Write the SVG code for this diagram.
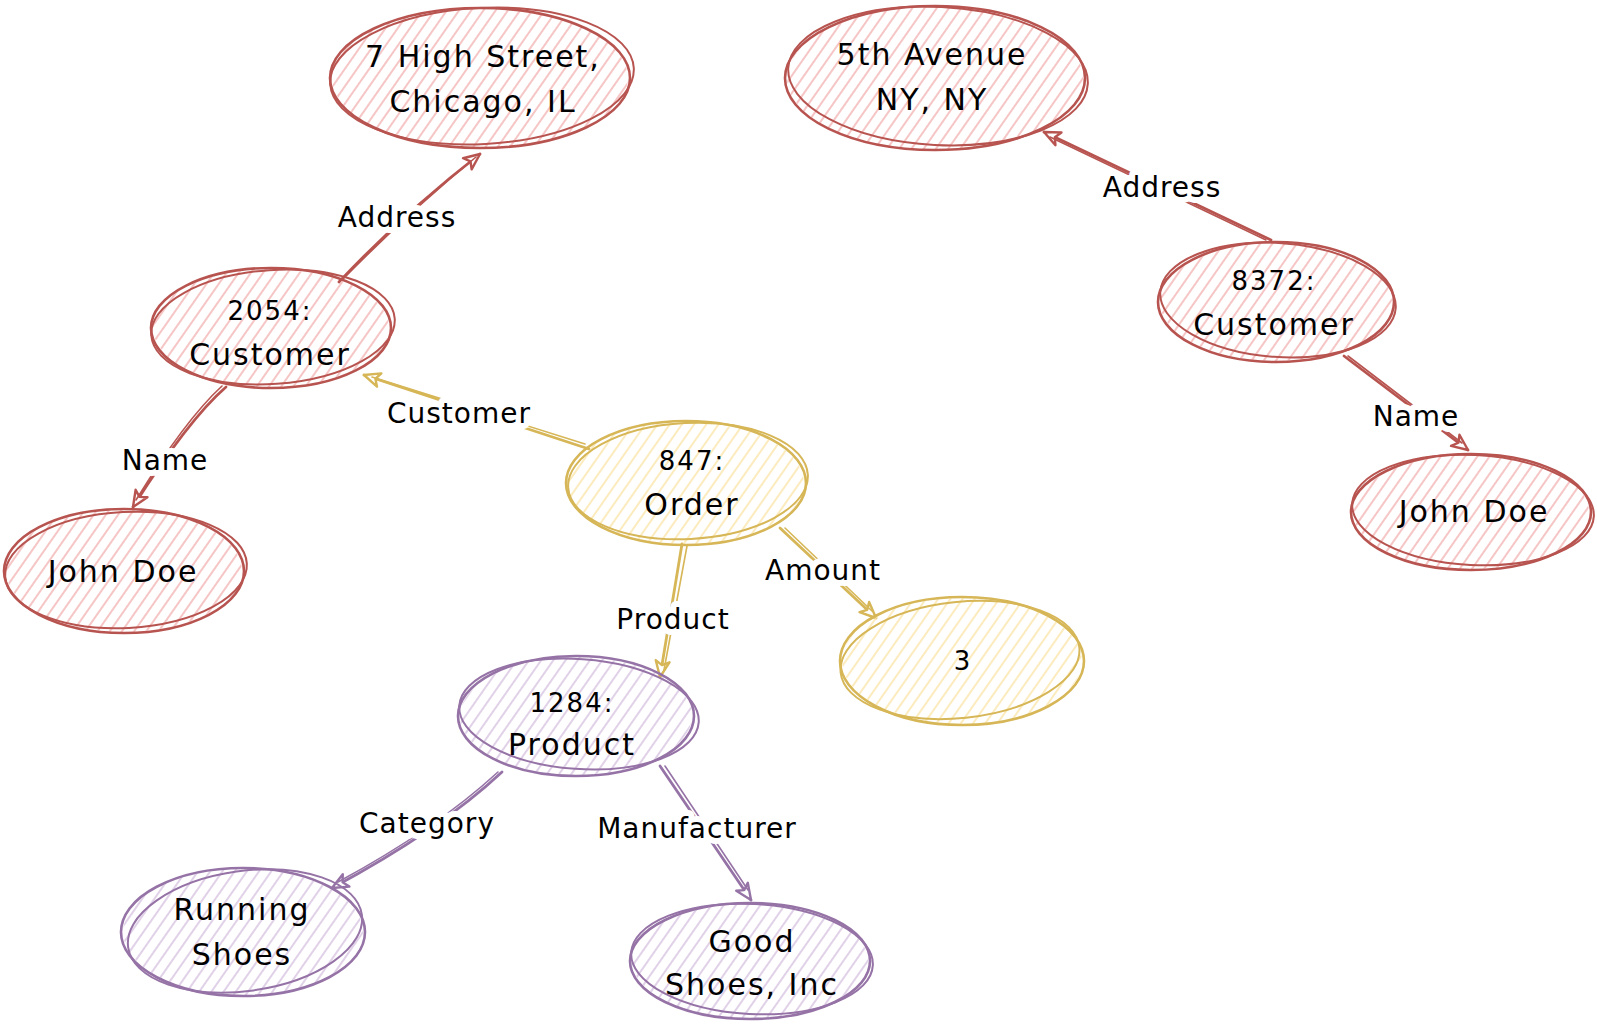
<svg xmlns="http://www.w3.org/2000/svg" width="1597" height="1027" viewBox="0 0 1597 1027">
<style>
.bg{fill:#fff}
.o{fill:none;stroke-width:2.6;stroke-linecap:round}
.o2{fill:none;stroke-width:2;stroke-linecap:round}
.r{stroke:#b85450}
.y{stroke:#d6b656}
.p{stroke:#9673a6}
.fr{fill:url(#hR)}
.fy{fill:url(#hY)}
.fp{fill:url(#hP)}
.t{font-family:"DejaVu Sans","Liberation Sans",sans-serif;font-size:30px;letter-spacing:2px;text-anchor:middle;fill:#000}
.s{font-size:26px}
.l{font-family:"DejaVu Sans","Liberation Sans",sans-serif;font-size:28px;letter-spacing:1px;text-anchor:middle;fill:#000;paint-order:stroke;stroke:#fff;stroke-width:12px;stroke-linejoin:round}
.e{fill:none;stroke-width:2.8;stroke-linecap:round}
.e2{fill:none;stroke-width:1.6;stroke-linecap:round}
</style>
<defs>
<pattern id="hR" width="10" height="10" patternUnits="userSpaceOnUse" patternTransform="rotate(35)"><line x1="2" y1="0" x2="2" y2="10" stroke="#f3b8b6" stroke-width="1.6"/></pattern>
<pattern id="hY" width="10" height="10" patternUnits="userSpaceOnUse" patternTransform="rotate(35)"><line x1="2" y1="0" x2="2" y2="10" stroke="#fbe6ad" stroke-width="1.6"/></pattern>
<pattern id="hP" width="10" height="10" patternUnits="userSpaceOnUse" patternTransform="rotate(35)"><line x1="2" y1="0" x2="2" y2="10" stroke="#d9c6e2" stroke-width="1.6"/></pattern>
<marker id="aR" viewBox="0 0 20 20" refX="18" refY="10" markerWidth="20" markerHeight="20" markerUnits="userSpaceOnUse" orient="auto"><path d="M2,3 L18,10 L2,17 L6,10 Z" fill="#fff" stroke="#b85450" stroke-width="2.4" stroke-linejoin="round"/></marker>
<marker id="aY" viewBox="0 0 20 20" refX="18" refY="10" markerWidth="20" markerHeight="20" markerUnits="userSpaceOnUse" orient="auto"><path d="M2,3 L18,10 L2,17 L6,10 Z" fill="#fff" stroke="#d6b656" stroke-width="2.4" stroke-linejoin="round"/></marker>
<marker id="aP" viewBox="0 0 20 20" refX="18" refY="10" markerWidth="20" markerHeight="20" markerUnits="userSpaceOnUse" orient="auto"><path d="M2,3 L18,10 L2,17 L6,10 Z" fill="#fff" stroke="#9673a6" stroke-width="2.4" stroke-linejoin="round"/></marker>
</defs>
<rect class="bg" x="0" y="0" width="1597" height="1027"/>

<g id="connectors">
  <g id="e-addr1">
    <path class="e r" d="M339,282 Q405,212 480,154" marker-end="url(#aR)"/>
    <path class="e2 r" d="M343,279 Q407,214 476,157"/>
    <text class="l" x="397" y="227">Address</text>
  </g>
  <g id="e-addr2">
    <path class="e r" d="M1271,240 L1044,132" marker-end="url(#aR)"/>
    <path class="e2 r" d="M1266,240 L1050,137"/>
    <text class="l" x="1162" y="197">Address</text>
  </g>
  <g id="e-name1">
    <path class="e r" d="M226,387 Q188,420 133,507" marker-end="url(#aR)"/>
    <path class="e2 r" d="M222,386 Q185,420 136,500"/>
    <text class="l" x="165" y="470">Name</text>
  </g>
  <g id="e-name2">
    <path class="e r" d="M1344,356 L1468,450" marker-end="url(#aR)"/>
    <path class="e2 r" d="M1348,356 L1462,443"/>
    <text class="l" x="1416" y="426">Name</text>
  </g>
  <g id="e-customer">
    <path class="e y" d="M589,449 L364,375" marker-end="url(#aY)"/>
    <path class="e2 y" d="M585,444 L372,377"/>
    <text class="l" x="459" y="423">Customer</text>
  </g>
  <g id="e-product">
    <path class="e y" d="M682,544 L660,677" marker-end="url(#aY)"/>
    <path class="e2 y" d="M687,546 L664,670"/>
    <text class="l" x="673" y="629">Product</text>
  </g>
  <g id="e-amount">
    <path class="e y" d="M780,528 L876,618" marker-end="url(#aY)"/>
    <path class="e2 y" d="M785,528 L872,611"/>
    <text class="l" x="823" y="580">Amount</text>
  </g>
  <g id="e-category">
    <path class="e p" d="M502,772 Q440,830 332,888" marker-end="url(#aP)"/>
    <path class="e2 p" d="M498,772 Q436,829 338,882"/>
    <text class="l" x="427" y="833">Category</text>
  </g>
  <g id="e-manufacturer">
    <path class="e p" d="M660,766 L751,900" marker-end="url(#aP)"/>
    <path class="e2 p" d="M665,766 L748,890"/>
    <text class="l" x="697" y="838">Manufacturer</text>
  </g>
</g>

<g id="n-high">
  <ellipse class="fr" cx="480" cy="78" rx="148" ry="70"/>
  <ellipse class="o r" cx="480" cy="78" rx="150" ry="70"/>
  <ellipse class="o2 r" cx="482" cy="76" rx="152" ry="68" transform="rotate(-3 482 76)"/>
  <text class="t" x="483" y="67">7 High Street,<tspan x="483" y="112">Chicago, IL</tspan></text>
</g>
<g id="n-fifth">
  <ellipse class="fr" cx="935" cy="78" rx="148" ry="72"/>
  <ellipse class="o r" cx="935" cy="78" rx="150" ry="72"/>
  <ellipse class="o2 r" cx="938" cy="76" rx="150" ry="69" transform="rotate(3 938 76)"/>
  <text class="t" x="932" y="65">5th Avenue<tspan x="932" y="110">NY, NY</tspan></text>
</g>
<g id="n-c2054">
  <ellipse class="fr" cx="271" cy="328" rx="118" ry="59"/>
  <ellipse class="o r" cx="271" cy="328" rx="120" ry="60"/>
  <ellipse class="o2 r" cx="273" cy="327" rx="122" ry="57" transform="rotate(-4 273 327)"/>
  <text class="t" x="270" y="320"><tspan class="s">2054:</tspan><tspan x="270" y="365">Customer</tspan></text>
</g>
<g id="n-c8372">
  <ellipse class="fr" cx="1276" cy="302" rx="116" ry="59"/>
  <ellipse class="o r" cx="1276" cy="302" rx="118" ry="60"/>
  <ellipse class="o2 r" cx="1278" cy="300" rx="118" ry="57" transform="rotate(4 1278 300)"/>
  <text class="t" x="1274" y="290"><tspan class="s">8372:</tspan><tspan x="1274" y="335">Customer</tspan></text>
</g>
<g id="n-jd-right">
  <ellipse class="fr" cx="1471" cy="512" rx="118" ry="57"/>
  <ellipse class="o r" cx="1471" cy="512" rx="120" ry="58"/>
  <ellipse class="o2 r" cx="1473" cy="510" rx="121" ry="55" transform="rotate(3 1473 510)"/>
  <text class="t" x="1474" y="522">John Doe</text>
</g>
<g id="n-jd-left">
  <ellipse class="fr" cx="124" cy="571" rx="118" ry="61"/>
  <ellipse class="o r" cx="124" cy="571" rx="120" ry="62"/>
  <ellipse class="o2 r" cx="126" cy="570" rx="121" ry="58" transform="rotate(-3 126 570)"/>
  <text class="t" x="123" y="582">John Doe</text>
</g>
<g id="n-order">
  <ellipse class="fy" cx="686" cy="483" rx="118" ry="61"/>
  <ellipse class="o y" cx="686" cy="483" rx="120" ry="62"/>
  <ellipse class="o2 y" cx="688" cy="481" rx="120" ry="58" transform="rotate(-3 688 481)"/>
  <text class="t" x="692" y="470"><tspan class="s">847:</tspan><tspan x="692" y="515">Order</tspan></text>
</g>
<g id="n-three">
  <ellipse class="fy" cx="962" cy="661" rx="120" ry="63"/>
  <ellipse class="o y" cx="962" cy="661" rx="122" ry="64"/>
  <ellipse class="o2 y" cx="960" cy="660" rx="120" ry="58" transform="rotate(-6 960 660)"/>
  <text class="t s" x="963" y="670">3</text>
</g>
<g id="n-product">
  <ellipse class="fp" cx="576" cy="716" rx="116" ry="59"/>
  <ellipse class="o p" cx="576" cy="716" rx="118" ry="60"/>
  <ellipse class="o2 p" cx="579" cy="714" rx="120" ry="55" transform="rotate(4 579 714)"/>
  <text class="t" x="572" y="712"><tspan class="s">1284:</tspan><tspan x="572" y="755">Product</tspan></text>
</g>
<g id="n-running">
  <ellipse class="fp" cx="243" cy="932" rx="120" ry="63"/>
  <ellipse class="o p" cx="243" cy="932" rx="122" ry="64"/>
  <ellipse class="o2 p" cx="245" cy="931" rx="118" ry="60" transform="rotate(-8 245 931)"/>
  <text class="t" x="242" y="920">Running<tspan x="242" y="965">Shoes</tspan></text>
</g>
<g id="n-good">
  <ellipse class="fp" cx="750" cy="961" rx="118" ry="57"/>
  <ellipse class="o p" cx="750" cy="961" rx="120" ry="58"/>
  <ellipse class="o2 p" cx="752" cy="959" rx="121" ry="55" transform="rotate(3 752 959)"/>
  <text class="t" x="752" y="952">Good<tspan x="752" y="995">Shoes, Inc</tspan></text>
</g>
</svg>
